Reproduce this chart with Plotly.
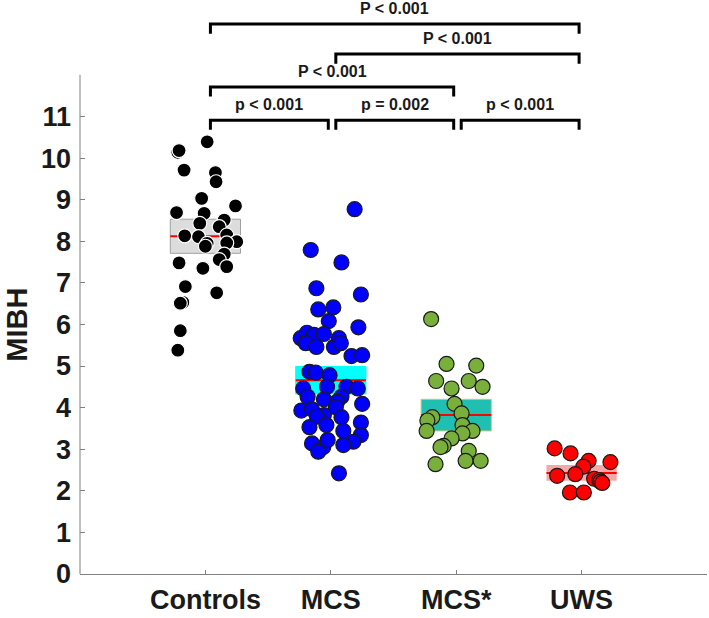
import plotly.graph_objects as go

categories = ["Controls", "MCS", "MCS*", "UWS"]
cat_pos = [1, 2, 3, 4]

controls_vals = [10.39, 10.14, 10.18, 9.71, 9.65, 9.43, 9.03, 8.85, 8.69, 8.67, 8.51, 8.43,
                 8.35, 8.15, 8.13, 8.11, 7.99, 7.96, 7.95, 7.88, 7.69, 7.56, 7.48, 7.39,
                 7.35, 6.91, 6.76, 6.53, 6.51, 5.85, 5.38]
controls_jit = [0.014, -0.22, -0.21, -0.17, 0.08, 0.085, -0.03, 0.24, -0.23, -0.01, 0.15, -0.045,
                0.11, 0.17, -0.165, -0.055, 0.25, 0.17, 0.014, 0.0, 0.15, 0.11, -0.21, 0.17,
                -0.02, -0.16, 0.09, -0.18, -0.2, -0.2, -0.22]

mcs_vals = [8.77, 7.79, 7.49, 6.87, 6.72, 6.36, 6.41, 6.08, 5.93,
            5.67, 5.80, 5.75, 5.77, 5.55, 5.46, 5.46, 5.67, 5.55, 5.24, 5.26,
            4.86, 4.84, 4.78, 4.46, 4.50, 4.50, 4.46, 4.26, 4.20, 4.26, 4.14, 4.09,
            3.93, 3.96, 4.01, 3.82, 3.77, 3.78, 3.53, 3.58, 3.44, 3.64, 3.34, 3.18,
            3.14, 3.05, 2.94, 3.10, 3.22, 2.42]
mcs_jit = [0.19, -0.16, 0.085, -0.115, 0.24, -0.10, 0.02, -0.016, 0.22,
           -0.24, -0.19, -0.135, -0.055, -0.2, -0.115, 0.025, 0.065, 0.08, 0.165, 0.25,
           -0.17, -0.12, -0.01, -0.22, -0.03, 0.125, 0.215, -0.185, -0.055, 0.085, 0.05, 0.25,
           -0.235, -0.15, 0.04, -0.055, 0.085, -0.11, -0.17, -0.035, 0.1, 0.24, 0.24, 0.18,
           -0.15, -0.06, -0.1, 0.1, -0.025, 0.065]

mcsstar_vals = [6.13, 5.05, 5.01, 4.64, 4.64, 4.46, 4.50, 4.09, 3.86, 3.77, 3.69, 3.44,
                3.58, 3.44, 3.38, 3.26, 3.08, 3.05, 2.96, 2.72, 2.72, 2.64]
mcsstar_jit = [-0.2, -0.077, 0.16, -0.16, 0.1, -0.037, 0.21, -0.013, 0.043, -0.19, -0.23, -0.236,
               0.05, 0.13, 0.05, -0.037, -0.1, -0.125, 0.1, 0.075, 0.195, -0.165]

uws_vals = [3.02, 2.90, 2.72, 2.69, 2.58, 2.36, 2.40, 2.29, 2.26, 2.22, 2.19, 1.96, 1.96]
uws_jit = [-0.215, -0.088, 0.056, 0.23, 0.014, -0.195, -0.05, 0.1, 0.14, 0.15, 0.165, -0.093, 0.018]

group_mean = [8.12, 4.66, 3.82, 2.43]
group_sem = [0.41, 0.33, 0.38, 0.19]

yticks = list(range(0, 12))

# significance comparisons: (group index a, group index b, level, label)
comparisons = [
    (0, 1, 10.91, "p < 0.001"),
    (1, 2, 10.91, "p = 0.002"),
    (2, 3, 10.91, "p < 0.001"),
    (0, 2, 11.71, "P < 0.001"),
    (1, 3, 12.50, "P < 0.001"),
    (0, 3, 13.22, "P < 0.001"),
]

FONT = "Arial, Liberation Sans, sans-serif"
TXT = "#1a1a1a"

groups = [
    (controls_vals, controls_jit, "#000000", "#ffffff", 14),
    (mcs_vals, mcs_jit, "#0000ff", "#1a1a1a", 15),
    (mcsstar_vals, mcsstar_jit, "#79b03c", "#1a1a1a", 15),
    (uws_vals, uws_jit, "#ff0000", "#1a1a1a", 15),
]
box_fill = ["#dcdcdc", "#00ffff", "#1fc0b2", "rgba(240,110,110,0.6)"]
box_line = ["#a0a0a0", "#00ffff", "#c8c878", "rgba(240,110,110,0.0)"]
box_half = 0.28

fig = go.Figure()
shapes = []
for i, (m, s) in enumerate(zip(group_mean, group_sem)):
    xc = cat_pos[i]
    shapes.append(dict(type="rect", xref="x", yref="y", x0=xc - box_half, x1=xc + box_half,
                       y0=m - s, y1=m + s, fillcolor=box_fill[i],
                       line=dict(color=box_line[i], width=1), layer="below"))
    shapes.append(dict(type="line", xref="x", yref="y", x0=xc - box_half, x1=xc + box_half,
                       y0=m, y1=m, line=dict(color="#ff0000", width=2), layer="below"))

for i, (vals, jit, fill, edge, sz) in enumerate(groups):
    fig.add_trace(go.Scatter(
        x=[cat_pos[i] + j for j in jit], y=vals, mode="markers",
        marker=dict(size=sz, color=fill, line=dict(color=edge, width=1.2)),
        showlegend=False, hoverinfo="y"))

# brackets
tick_drop = 0.23
annotations = []
for a, b, lvl, lab in comparisons:
    xa = cat_pos[a] + 0.04
    xb = cat_pos[b] - 0.02
    shapes.append(dict(type="path", xref="x", yref="y",
                       path=f"M {xa} {lvl - tick_drop} L {xa} {lvl} L {xb} {lvl} L {xb} {lvl - tick_drop}",
                       line=dict(color="#000000", width=3)))
    annotations.append(dict(x=(xa + xb) / 2, y=lvl + 0.37, xref="x", yref="y", text=lab,
                            showarrow=False, font=dict(family=FONT, size=16, color=TXT, weight="bold"),
                            xanchor="center", yanchor="middle"))

# y axis line only up to 12
shapes.append(dict(type="line", xref="paper", yref="y", x0=0, x1=0, y0=0, y1=12,
                   line=dict(color="#808080", width=1)))

annotations.append(dict(x=-0.1, y=6, xref="paper", yref="y", text="MIBH", textangle=-90,
                        showarrow=False, font=dict(family=FONT, size=29, color=TXT, weight="bold"),
                        xanchor="center", yanchor="middle"))

fig.update_layout(
    width=709, height=618,
    margin=dict(l=80, r=2, t=0, b=44),
    plot_bgcolor="white", paper_bgcolor="white",
    shapes=shapes, annotations=annotations,
    xaxis=dict(range=[0, 5], tickvals=cat_pos, ticktext=categories, showgrid=False, zeroline=False,
               automargin=False,
               showline=True, linecolor="#808080", linewidth=1, ticks="inside", ticklen=4,
               tickcolor="#808080", ticklabelstandoff=2,
               tickfont=dict(family=FONT, size=27, color=TXT, weight="bold")),
    yaxis=dict(range=[0, 13.8], tickvals=yticks, showgrid=False, zeroline=False, showline=False,
               automargin=False,
               ticks="inside", ticklen=5, tickcolor="#808080", ticklabelstandoff=8,
               tickfont=dict(family=FONT, size=27, color=TXT, weight="bold")),
)

fig.write_html("out.html", config={"displayModeBar": False},
               post_script="document.body.style.margin='0px';document.body.style.overflow='hidden';")
